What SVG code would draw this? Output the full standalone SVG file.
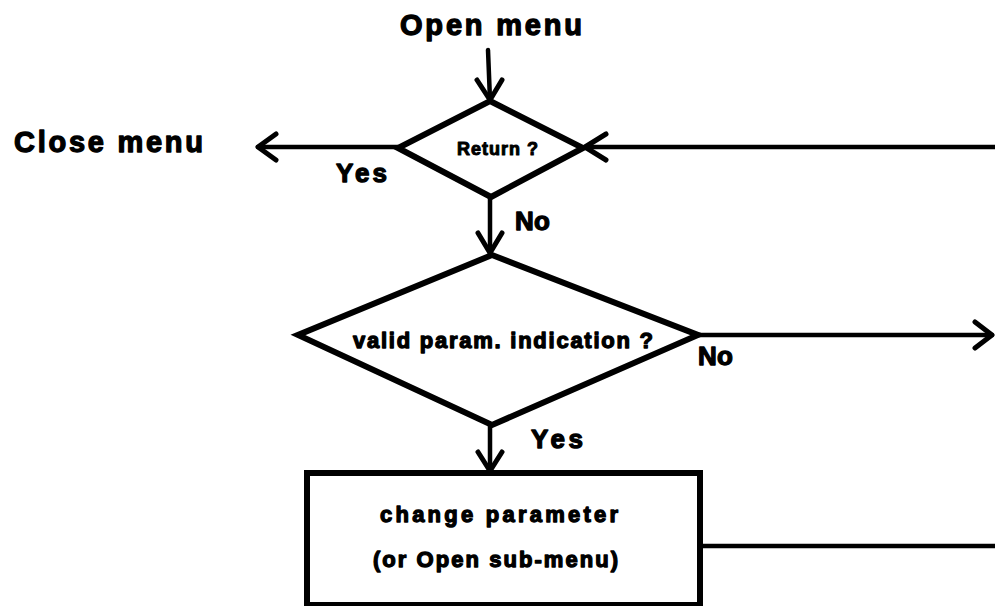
<svg xmlns="http://www.w3.org/2000/svg" width="995" height="606" viewBox="0 0 995 606">
  <style>
    .shape { fill: #ffffff; stroke: #000000; stroke-width: 6; stroke-linejoin: miter; }
    .wire { fill: none; stroke: #000000; stroke-width: 4.5; stroke-linecap: round; stroke-linejoin: round; }
    .head { fill: none; stroke: #000000; stroke-width: 5; stroke-linecap: round; stroke-linejoin: round; }
    text { font-family: "Liberation Sans", Arial, sans-serif; font-weight: bold; fill: #000000; stroke: #000000; stroke-width: 1.3; stroke-linejoin: round; }
    .big { font-size: 29px; }
    .lbl { font-size: 26px; }
    .mid { font-size: 22px; }
    .sm { font-size: 18px; stroke-width: 1; }
  </style>
  <rect width="995" height="606" fill="#ffffff"/>

  <!-- connectors -->
  <g id="connectors">
    <!-- entry into Return ? -->
    <path class="wire" d="M488 50 L490 100"/>
    <path class="head" d="M477 80 L490 100 L502 80"/>
    <!-- Return ? Yes -> Close menu -->
    <path class="wire" d="M398 147 L258 147"/>
    <path class="head" d="M276 134 L258 147 L276 160"/>
    <!-- loop back from the right -->
    <path class="wire" d="M995 147 L585 147"/>
    <path class="head" d="M606 134 L585 147 L606 160"/>
    <!-- Return ? No -> valid param -->
    <path class="wire" d="M490 197 L490 253"/>
    <path class="head" d="M478 233 L490 253 L502 233"/>
    <!-- valid param No -> right -->
    <path class="wire" d="M698 335 L992 335"/>
    <path class="head" d="M975 322 L992 335 L975 348"/>
    <!-- valid param Yes -> change parameter -->
    <path class="wire" d="M490 425 L490 471"/>
    <path class="head" d="M478 452 L490 471 L502 452"/>
    <!-- change parameter -> right -->
    <path class="wire" d="M700 546 L995 546"/>
  </g>

  <!-- connector labels -->
  <g id="labels">
    <text class="big" x="400" y="35" textLength="182" lengthAdjust="spacing">Open menu</text>
    <text class="big" x="14" y="152" textLength="189" lengthAdjust="spacing">Close menu</text>
    <text class="lbl" x="336" y="182" textLength="51" lengthAdjust="spacing">Yes</text>
    <text class="lbl" x="515" y="230" textLength="35" lengthAdjust="spacing">No</text>
    <text class="lbl" x="698" y="365" textLength="35" lengthAdjust="spacing">No</text>
    <text class="lbl" x="531" y="448" textLength="52" lengthAdjust="spacing">Yes</text>
  </g>

  <g id="node-return">
    <polygon class="shape" points="490,101 583,148 491,197 398,148"/>
    <text class="sm" x="457" y="155" textLength="81" lengthAdjust="spacing">Return ?</text>
  </g>

  <g id="node-valid">
    <polygon class="shape" points="492,255 698,335 492,425 298,335"/>
    <text class="mid" x="353" y="348" textLength="300" lengthAdjust="spacing">valid param. indication ?</text>
  </g>

  <g id="node-change">
    <rect class="shape" x="307" y="473" width="393" height="132"/>
    <text class="mid" x="380" y="522" textLength="238" lengthAdjust="spacing">change parameter</text>
    <text class="mid" x="373" y="567" textLength="245" lengthAdjust="spacing">(or Open sub-menu)</text>
  </g>
</svg>
